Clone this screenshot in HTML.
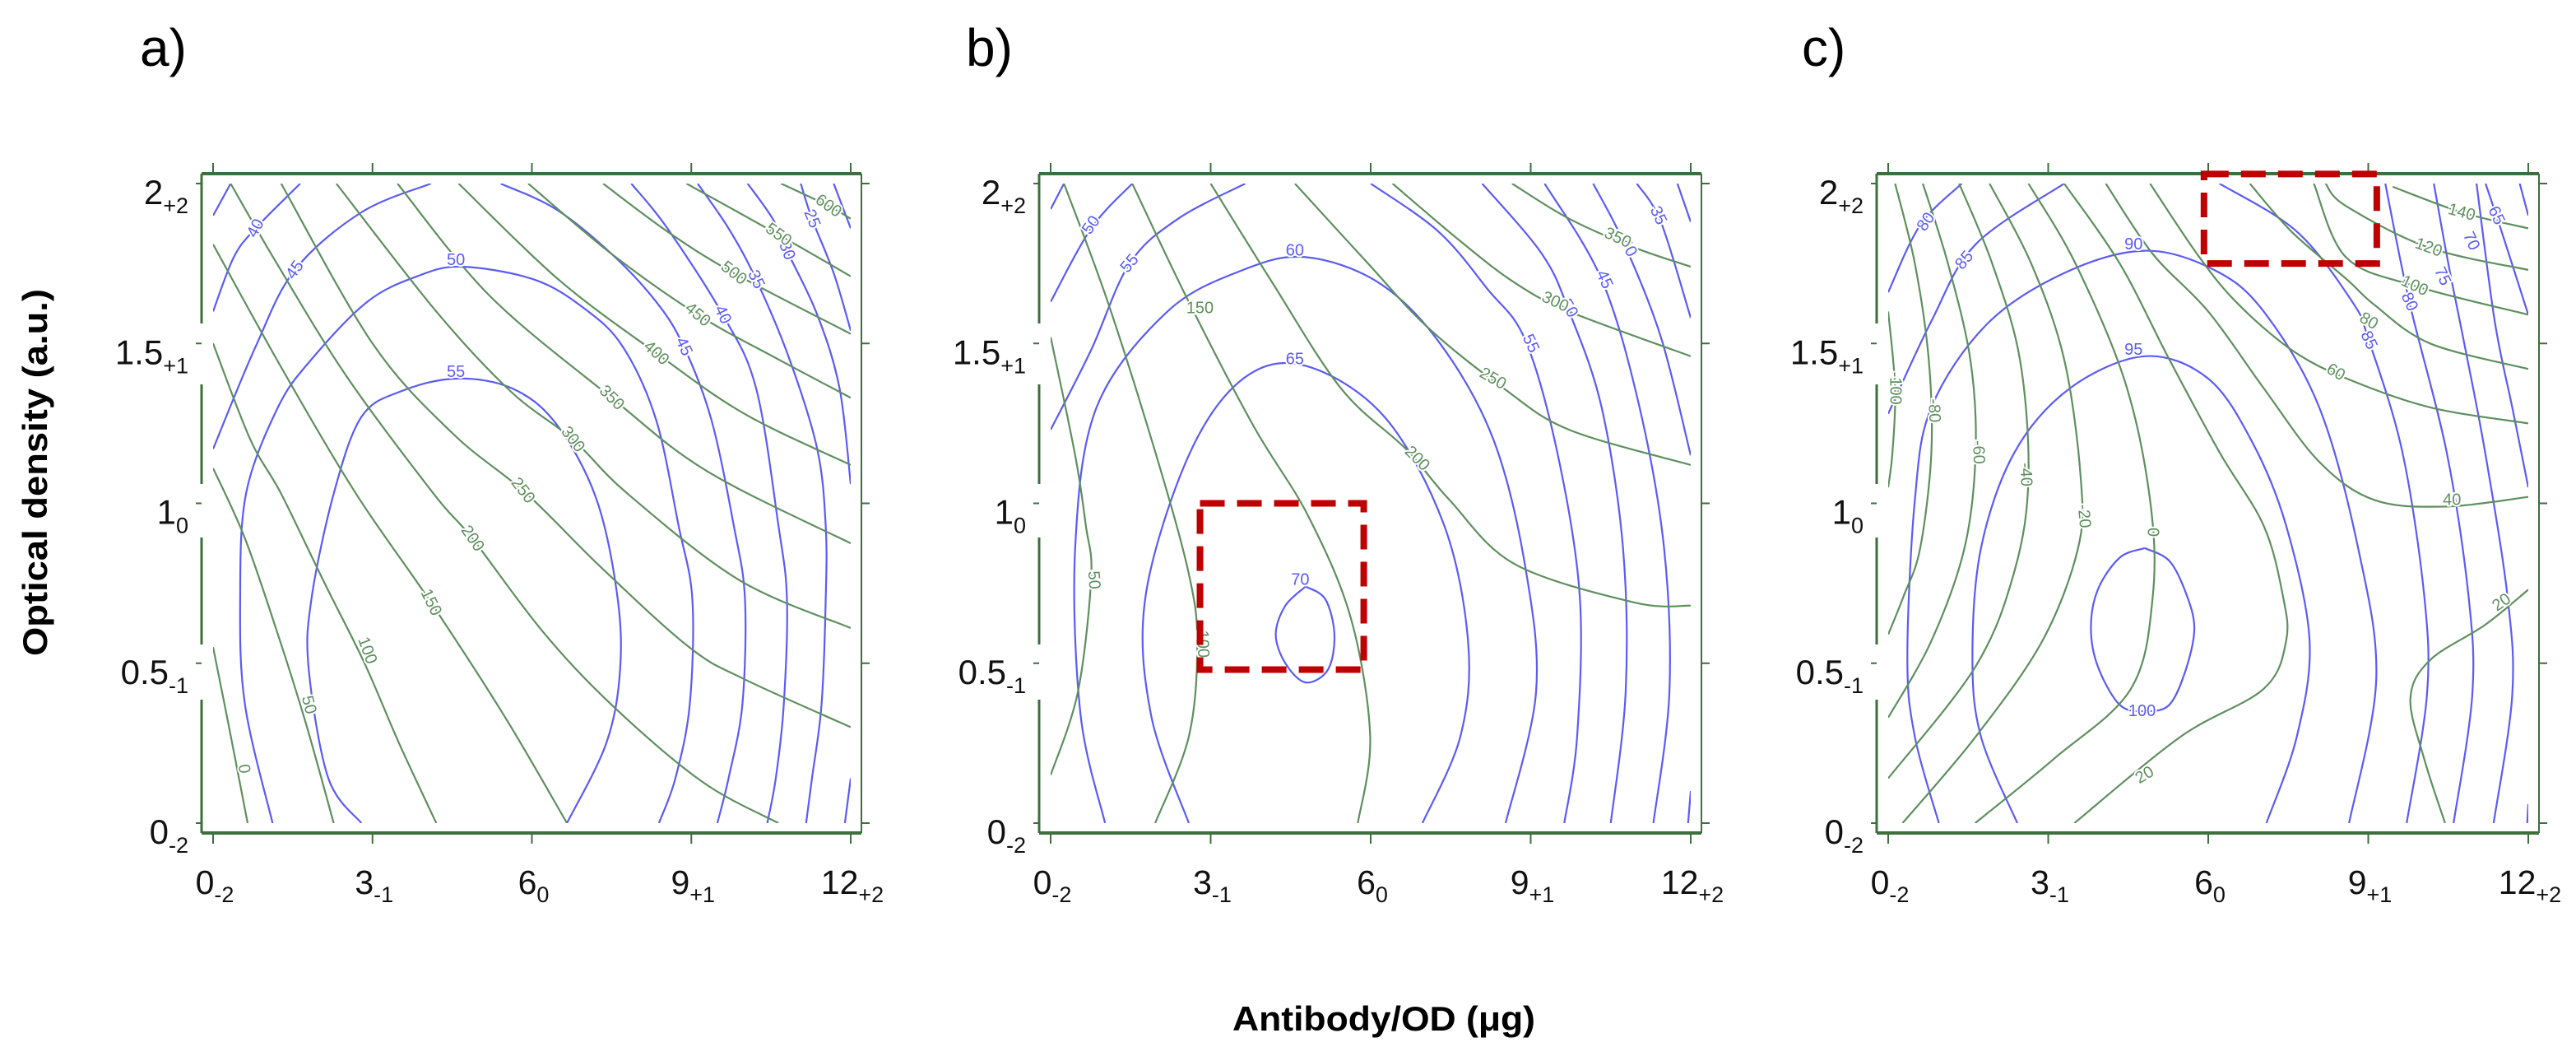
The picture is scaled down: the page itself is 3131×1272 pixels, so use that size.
<!DOCTYPE html>
<html><head><meta charset="utf-8"><style>
html,body{margin:0;padding:0;background:#fff;}
svg{display:block;font-family:"Liberation Sans",Arial,sans-serif;}
</style></head><body>
<svg id="fig" width="3131" height="1272" viewBox="0 0 3131 1272" xmlns="http://www.w3.org/2000/svg">
<rect width="3131" height="1272" fill="#fff"/>
<text x="170" y="80" font-size="64">a)</text>
<text x="1174" y="80" font-size="64">b)</text>
<text x="2190" y="80" font-size="64">c)</text>
<text x="1682" y="1252" font-size="42" font-weight="bold" text-anchor="middle" textLength="368" lengthAdjust="spacingAndGlyphs">Antibody/OD (μg)</text>
<text transform="translate(57,574) rotate(-90)" font-size="42" font-weight="bold" text-anchor="middle" textLength="446" lengthAdjust="spacingAndGlyphs">Optical density (a.u.)</text>
<g id="plots"></g>
</svg>
<script>
// ---------- axis ticks ----------
const xTickValues = [0, 3, 6, 9, 12];
const xTickMain = ["0", "3", "6", "9", "12"];
const xTickSub = ["-2", "-1", "0", "+1", "+2"];
const yTickValues = [2, 1.5, 1, 0.5, 0];
const yTickMain = ["2", "1.5", "1", "0.5", "0"];
const yTickSub = ["+2", "+1", "0", "-1", "-2"];

// ---------- panel a ----------
const aBlueLevels = [55, 50, 45, 45, 40, 40, 35, 35, 30, 30, 25, 20];
const aBlueLines = [
 [[2.79,0],[2.17,.14],[1.8,.48],[1.85,.70],[2.27,1.03],[2.79,1.27],[3.53,1.35],[4.57,1.39],[5.62,1.36],[6.45,1.25],[7.2,1.02],[7.6,.72],[7.66,.48],[7.4,.25],[6.66,0]],
 [[1.12,0],[.6,.37],[.51,.70],[.62,1.03],[1.22,1.3],[1.85,1.45],[2.9,1.63],[3.84,1.71],[4.68,1.74],[6.04,1.70],[6.98,1.61],[7.71,1.49],[8.34,1.26],[8.76,.93],[9.02,.70],[8.97,.37],[8.7,.14],[8.39,0]],
 [[0,1.17],[.8,1.49],[1.54,1.73],[2.79,1.91],[4.1,2]],
 [[5.41,2],[6.45,1.92],[7.5,1.78],[8.34,1.63],[8.86,1.49],[9.38,1.26],[9.8,.93],[10.01,.70],[9.96,.37],[9.7,.14],[9.49,0]],
 [[0,1.6],[.39,1.77],[.8,1.86],[1.64,2]],
 [[7.87,2],[8.55,1.86],[9.59,1.59],[10.22,1.36],[10.64,.93],[10.8,.70],[10.74,.37],[10.59,.14],[10.43,0]],
 [[0,1.9],[.33,2]],
 [[9.12,2],[9.7,1.86],[10.22,1.70],[10.85,1.45],[11.37,1.17],[11.53,.93],[11.53,.70],[11.45,.37],[11.27,.14],[11.16,0]],
 [[10.06,2],[10.53,1.89],[10.8,1.79],[11.37,1.59],[11.79,1.36],[12,1.06]],
 [[12,.14],[11.89,0]],
 [[11.06,2],[11.27,1.89],[11.68,1.72],[12,1.54]],
 [[11.68,2],[12,1.86]]
];
const aGreenLevels = [0, 50, 100, 150, 200, 250, 300, 350, 400, 450, 500, 550, 600];
const aGreenLines = [
 [[0,.55],[.3,.3],[.65,0]],
 [[0,1.11],[.6,.89],[1.22,.59],[1.75,.31],[2.27,0]],
 [[0,1.5],[.7,1.2],[1.28,1.03],[2.1,.75],[2.85,.5],[3.5,.25],[4.2,0]],
 [[0,1.81],[1.3,1.42],[2.69,1.03],[4.1,.69],[5.5,.33],[6.66,0]],
 [[.33,2],[1.2,1.75],[2.5,1.4],[4.15,1.03],[4.88,.89],[6.2,.6],[7.5,.37],[9.2,.13],[10.64,0]],
 [[1.28,2],[3.0,1.5],[4.5,1.22],[5.9,1.03],[7.3,.8],[8.96,.55],[10,.45],[12,.30]],
 [[2.32,2],[4.2,1.6],[5.6,1.35],[6.77,1.2],[7.8,1.03],[9.9,.76],[12,.61]],
 [[3.47,2],[5.2,1.65],[7.5,1.33],[9.3,1.1],[12,.875]],
 [[4.62,2],[6.5,1.7],[8.34,1.47],[10,1.28],[12,1.12]],
 [[5.93,2],[7.5,1.78],[9.12,1.59],[10.64,1.45],[12,1.33]],
 [[7.34,2],[8.55,1.85],[9.8,1.72],[12,1.53]],
 [[8.91,2],[10.64,1.84],[12,1.71]],
 [[10.69,2],[11.58,1.93],[12,1.89]]
];
const aBlueLabels = [["40",.8,1.86,-62],["45",1.54,1.73,-55],["50",4.57,1.76,0],["55",4.57,1.41,0],["25",11.27,1.89,68],["30",10.8,1.79,68],["35",10.22,1.70,65],["40",9.59,1.59,65],["45",8.86,1.49,65]];
const aGreenLabels = [["0",.58,.17,82],["50",1.8,.37,76],["100",2.9,.54,70],["150",4.1,.69,64],["200",4.88,.89,55],["250",5.83,1.04,52],["300",6.77,1.2,52],["350",7.5,1.33,45],["400",8.34,1.47,42],["450",9.12,1.59,40],["500",9.8,1.72,38],["550",10.64,1.84,35],["600",11.58,1.93,35]];

// ---------- panel b ----------
const bBlueLevels = [70, 65, 60, 55, 55, 50, 50, 45, 45, 40, 35, 30, 25];
const bBlueLines = [
 [[4.78,.74],[5.15,.7],[5.32,.59],[5.2,.48],[4.78,.44],[4.4,.50],[4.22,.59],[4.4,.68],[4.78,.74]],
 [[2.59,0],[1.88,.34],[1.78,.71],[2.59,1.15],[3.61,1.39],[4.78,1.43],[6.26,1.27],[7.38,.93],[7.83,.56],[7.68,.27],[6.97,0]],
 [[1.02,0],[.56,.34],[.46,.86],[.86,1.30],[2.19,1.60],[3.61,1.73],[4.78,1.77],[6.15,1.69],[7.3,1.5],[8.3,1.2],[8.9,.8],[9.1,.41],[8.53,0]],
 [[0,1.23],[.76,1.48],[1.48,1.75],[2.39,1.89],[3.65,2]],
 [[6.0,2],[7.27,1.85],[8.19,1.67],[8.9,1.51],[9.51,1.15],[9.92,.71],[9.87,.27],[9.63,0]],
 [[0,1.63],[.76,1.86],[1.53,2]],
 [[8.09,2],[9.21,1.78],[9.72,1.60],[10.33,1.30],[10.73,.86],[10.78,.41],[10.5,0]],
 [[0,1.92],[.25,2]],
 [[9.26,2],[10.33,1.70],[11.04,1.30],[11.5,.86],[11.6,.41],[11.3,0]],
 [[10.17,2],[10.73,1.82],[11.44,1.52],[12,1.15]],
 [[10.99,2],[11.44,1.88],[12,1.58]],
 [[11.75,2],[12,1.88]],
 [[12,.1],[11.95,0]]
];
const bGreenLevels = [50, 100, 150, 200, 250, 300, 350];
const bGreenLines = [
 [[0,1.52],[.46,1.15],[.66,.93],[.76,.77],[.51,.41],[0,.15]],
 [[.25,2],[1.07,1.63],[1.98,1.15],[2.59,.78],[2.75,.56],[2.59,.27],[1.96,0]],
 [[1.53,2],[2.59,1.63],[3.81,1.24],[4.83,.96],[5.63,.64],[5.99,.27],[5.76,0]],
 [[3.0,2],[4.12,1.70],[5.44,1.36],[6.66,1.17],[7.48,1.01],[8.7,.81],[10.94,.69],[12,.68]],
 [[4.58,2],[5.95,1.75],[7.07,1.55],[8.49,1.36],[9.72,1.23],[12,1.12]],
 [[6.41,2],[7.68,1.82],[8.7,1.69],[9.72,1.60],[12,1.46]],
 [[8.65,2],[9.72,1.89],[10.94,1.80],[12,1.74]]
];
const bBlueLabels = [["50",.76,1.87,-55],["55",1.48,1.75,-50],["60",4.58,1.79,0],["65",4.58,1.45,0],["70",4.68,.76,0],["35",11.39,1.90,65],["40",10.83,1.80,60],["45",10.38,1.70,65],["50",9.72,1.61,60],["55",9.0,1.50,65]];
const bGreenLabels = [["50",.81,.76,86],["100",2.85,.56,88],["150",2.8,1.61,0],["200",6.87,1.14,45],["250",8.29,1.39,30],["300",9.46,1.63,25],["350",10.63,1.83,25]];

// ---------- panel c ----------
const cBlueLevels = [100, 95, 90, 85, 85, 80, 80, 75, 70, 65, 60, 55];
const cBlueLines = [
 [[4.81,.86],[5.27,.82],[5.58,.72],[5.74,.61],[5.58,.48],[5.27,.37],[4.81,.35],[4.34,.37],[3.93,.49],[3.8,.61],[3.93,.73],[4.34,.83],[4.81,.86]],
 [[2.42,0],[1.74,.27],[1.58,.52],[1.74,.86],[2.37,1.16],[3.41,1.36],[4.81,1.46],[6.0,1.39],[6.83,1.19],[7.46,.93],[7.9,.57],[7.66,.27],[7.09,0]],
 [[.95,0],[.5,.27],[.36,.52],[.5,1.01],[.81,1.30],[1.85,1.56],[3.3,1.72],[4.81,1.79],[6.11,1.73],[7.04,1.60],[8.08,1.30],[8.81,.86],[9.15,.45],[8.64,0]],
 [[0,1.28],[.81,1.57],[1.64,1.81],[3.3,2]],
 [[6.21,2],[7.66,1.85],[8.7,1.63],[9.01,1.51],[9.64,1.16],[10.05,.71],[10.1,.4],[9.72,0]],
 [[0,1.66],[.6,1.87],[1.38,2]],
 [[9.32,2],[9.77,1.63],[10.47,1.16],[10.88,.71],[10.95,.4],[10.6,0]],
 [[10.23,2],[10.5,1.75],[10.8,1.5],[11.19,1.16],[11.61,.71],[11.7,.4],[11.35,0]],
 [[11.03,2],[11.37,1.57],[11.7,1.3],[12,1.05]],
 [[11.2,2],[11.5,1.85],[12,1.59]],
 [[11.84,2],[12,1.9]],
 [[12,.06],[11.98,0]]
];
const cGreenLevels = [-100, -80, -60, -40, -20, 0, 20, 40, 60, 80, 100, 120, 140, 20];
const cGreenLines = [
 [[0,1.6],[.13,1.36],[.08,1.16],[0,1.05]],
 [[.13,2],[.5,1.75],[.76,1.45],[.81,1.16],[.6,.86],[.29,.71],[0,.59]],
 [[.65,2],[1.12,1.75],[1.54,1.45],[1.64,1.16],[1.43,.86],[.81,.57],[0,.33]],
 [[1.33,2],[1.95,1.75],[2.47,1.45],[2.63,1.08],[2.37,.79],[1.64,.49],[0,.14]],
 [[1.9,2],[2.68,1.75],[3.3,1.45],[3.61,1.08],[3.56,.86],[2.89,.57],[1.64,.27],[.27,0]],
 [[2.63,2],[3.51,1.75],[4.44,1.38],[4.91,1.01],[4.96,.71],[4.55,.42],[3.1,.2],[1.63,0]],
 [[3.3,2],[4.34,1.75],[5.27,1.45],[6.21,1.16],[7.04,.93],[7.4,.71],[7.46,.57],[7.04,.42],[5.48,.27],[3.49,0]],
 [[4.08,2],[4.96,1.78],[6.0,1.6],[7.04,1.36],[8.08,1.13],[9.12,1.01],[10.47,.99],[12,1.02]],
 [[4.91,2],[5.79,1.78],[6.52,1.63],[7.56,1.48],[8.6,1.39],[10.16,1.30],[12,1.25]],
 [[6.78,2],[7.56,1.85],[8.6,1.7],[9.12,1.62],[10.16,1.5],[12,1.42]],
 [[7.98,2],[8.58,1.77],[9.87,1.68],[12,1.59]],
 [[8.2,2],[8.58,1.93],[10.13,1.80],[12,1.73]],
 [[9.46,1.99],[10.75,1.91],[12,1.86]],
 [[12,.73],[11.19,.62],[10.16,.51],[9.79,.39],[10.05,.2],[10.44,0]]
];
const cBlueLabels = [["80",.71,1.88,-55],["85",1.43,1.76,-50],["90",4.6,1.81,0],["95",4.6,1.48,0],["100",4.76,.35,0],["65",11.4,1.9,65],["70",10.93,1.82,65],["75",10.39,1.71,65],["80",9.77,1.63,65],["85",9.01,1.51,65]];
const cGreenLabels = [["-100",.13,1.36,90],["-80",.86,1.29,88],["-60",1.69,1.16,88],["-40",2.58,1.09,88],["-20",3.67,.96,85],["0",4.96,.91,90],["20",4.81,.15,-30],["20",11.5,.69,-35],["40",10.57,1.01,0],["60",8.39,1.41,30],["80",9.01,1.57,30],["100",9.87,1.68,25],["120",10.13,1.80,20],["140",10.75,1.91,15]];

// ---------- highlight boxes (data coords: x1,x2,y1,y2) ----------
const bHighlight = [2.8, 5.87, 1.0, 0.48];
const cHighlight = [5.92, 9.16, 2.03, 1.75];

const NS = "http://www.w3.org/2000/svg";
const BLUE = "#5b5bf5", GREEN = "#5e8f5e", AXIS = "#3d6e3d";
const Y0PX = 1000, Y2PX = 223;

function mk(tag, attrs, parent) {
  const el = document.createElementNS(NS, tag);
  for (const k in attrs) el.setAttribute(k, attrs[k]);
  parent.appendChild(el);
  return el;
}
function smoothPath(pts, sx, sy) {
  const p = pts.map(q => [sx(q[0]), sy(q[1])]);
  let d = "M" + p[0][0].toFixed(1) + "," + p[0][1].toFixed(1);
  for (let i = 0; i < p.length - 1; i++) {
    const p0 = p[i - 1] || p[i], p1 = p[i], p2 = p[i + 1], p3 = p[i + 2] || p2;
    const c1 = [p1[0] + (p2[0] - p0[0]) / 6, p1[1] + (p2[1] - p0[1]) / 6];
    const c2 = [p2[0] - (p3[0] - p1[0]) / 6, p2[1] - (p3[1] - p1[1]) / 6];
    d += " C" + c1[0].toFixed(1) + "," + c1[1].toFixed(1) + " " + c2[0].toFixed(1) + "," + c2[1].toFixed(1) + " " + p2[0].toFixed(1) + "," + p2[1].toFixed(1);
  }
  return d;
}

function drawPanel(id, x0px, x12px, blueLevels, blueLines, greenLevels, greenLines, blueLabels, greenLabels, highlight) {
  const root = document.getElementById("plots");
  const g = mk("g", {}, root);
  
  
  const sx = v => x0px + (x12px - x0px) * v / 12;
  const sy = v => Y0PX + (Y2PX - Y0PX) * v / 2;
  const L = x0px - 14, R = x12px + 13, T = 211, B = 1012;

  const clipId = "clip-" + id;
  const cp = mk("clipPath", { id: clipId }, g);
  mk("rect", { x: sx(0), y: sy(2), width: sx(12) - sx(0), height: sy(0) - sy(2) }, cp);

  const cg = mk("g", { "clip-path": "url(#" + clipId + ")", fill: "none", "stroke-width": 2.2 }, g);
  blueLines.forEach((pts, i) => {
    const path = mk("path", { d: smoothPath(pts, sx, sy), stroke: BLUE }, cg);
    
    
  });
  greenLines.forEach((pts, i) => {
    const path = mk("path", { d: smoothPath(pts, sx, sy), stroke: GREEN }, cg);
    
    
  });
  const addLabels = (arr, color, kind) => arr.forEach(l => {
    const t = mk("text", {
      x: 0, y: 0, transform: "translate(" + sx(l[1]).toFixed(1) + "," + sy(l[2]).toFixed(1) + ") rotate(" + l[3] + ")",
      "font-size": 20, fill: color, "text-anchor": "middle", "dominant-baseline": "central",
      stroke: "#fff", "stroke-width": 4, "paint-order": "stroke"
    }, g);
    t.textContent = l[0];
    
    
  });
  addLabels(blueLabels, BLUE, "blue");
  addLabels(greenLabels, GREEN, "green");

  const ax = mk("g", { stroke: AXIS, fill: "none" }, g);
  
  
  mk("line", { x1: L, y1: T, x2: R, y2: T, "stroke-width": 4 }, ax);
  mk("line", { x1: L, y1: B, x2: R, y2: B, "stroke-width": 4 }, ax);
  mk("line", { x1: R, y1: T, x2: R, y2: B, "stroke-width": 2 }, ax);
  const leftSegs = [[T, 393], [467, 588], [653, 783], [850, B]];
  leftSegs.forEach(s => mk("line", { x1: L, y1: s[0], x2: L, y2: s[1], "stroke-width": 3 }, ax));
  xTickValues.forEach(v => {
    mk("line", { x1: sx(v), y1: T, x2: sx(v), y2: T - 13, "stroke-width": 2 }, ax);
    mk("line", { x1: sx(v), y1: B, x2: sx(v), y2: B + 13, "stroke-width": 2 }, ax);
  });
  yTickValues.forEach(v => {
    mk("line", { x1: R, y1: sy(v), x2: R + 10, y2: sy(v), "stroke-width": 2 }, ax);
    mk("line", { x1: L, y1: sy(v), x2: L - 7, y2: sy(v), "stroke-width": 2 }, ax);
  });

  xTickValues.forEach((v, i) => {
    const t = mk("text", { x: sx(v) + 2, y: 1086, "font-size": 41, "text-anchor": "middle", fill: "#111" }, g);
    
    
    const a = mk("tspan", {}, t); a.textContent = xTickMain[i];
    const b = mk("tspan", { dy: 10, "font-size": 27 }, t); b.textContent = xTickSub[i];
  });
  yTickValues.forEach((v, i) => {
    const t = mk("text", { x: L - 16, y: sy(v) + 25, "font-size": 42, "text-anchor": "end", fill: "#111" }, g);
    
    
    const a = mk("tspan", {}, t); a.textContent = yTickMain[i];
    const b = mk("tspan", { dy: 11, "font-size": 27 }, t); b.textContent = yTickSub[i];
  });

  if (highlight) {
    const hx1 = sx(highlight[0]), hx2 = sx(highlight[1]), hy1 = sy(highlight[2]), hy2 = sy(highlight[3]);
    const r = mk("rect", { x: Math.min(hx1, hx2), y: Math.min(hy1, hy2), width: Math.abs(hx2 - hx1), height: Math.abs(hy2 - hy1),
      fill: "none", stroke: "#c00000", "stroke-width": 8, "stroke-dasharray": "30 15" }, g);
    
    
  }
}

drawPanel("a", 259, 1034, aBlueLevels, aBlueLines, aGreenLevels, aGreenLines, aBlueLabels, aGreenLabels, null);
drawPanel("b", 1277, 2055, bBlueLevels, bBlueLines, bGreenLevels, bGreenLines, bBlueLabels, bGreenLabels, bHighlight);
drawPanel("c", 2295, 3073, cBlueLevels, cBlueLines, cGreenLevels, cGreenLines, cBlueLabels, cGreenLabels, cHighlight);
</script>
</body></html>
